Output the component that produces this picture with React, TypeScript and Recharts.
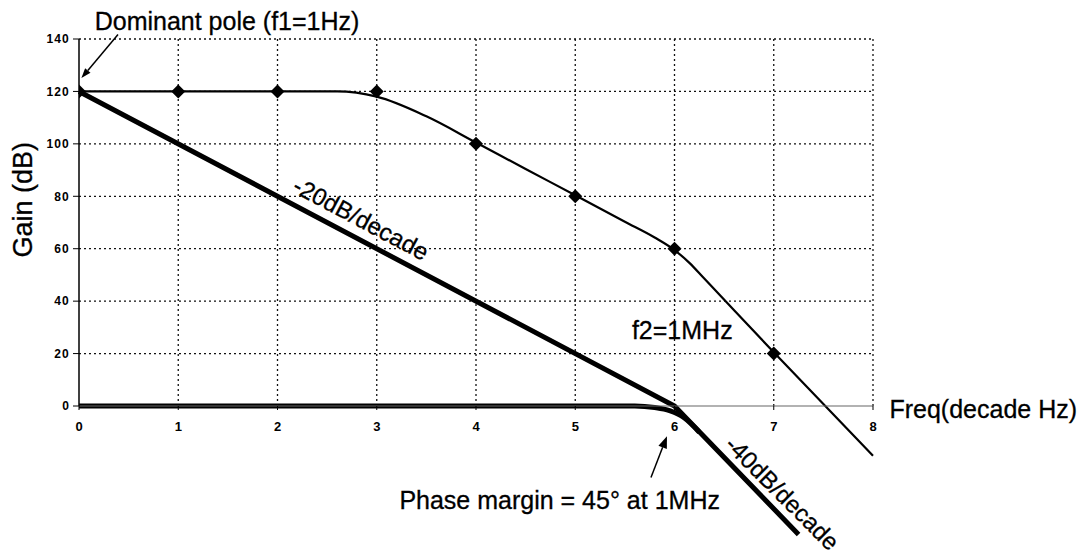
import React from 'react';
import {
  ComposedChart,
  Line,
  Scatter,
  XAxis,
  YAxis,
  CartesianGrid,
  ReferenceLine,
  ReferenceDot,
} from 'recharts';

// ---- data ----
const xTicks = [0, 1, 2, 3, 4, 5, 6, 7, 8];
const yTicks = [0, 20, 40, 60, 80, 100, 120, 140];

// measured open-loop points (diamonds)
const markerFreq = [0, 1, 2, 3, 4, 5, 6, 7];
const markerGain = [120, 120, 120, 120, 100, 80, 60, 20];

// smooth two-pole response curve
const curveFreq = [0, 2.6, 3.0, 3.5, 4.0, 4.5, 5.0, 5.5, 5.8, 6.0, 6.15, 6.3, 7.0, 8.0];
const curveGain = [120, 120, 118, 110.5, 100.5, 90.4, 80.4, 70.3, 64.3, 59.5, 54.6, 48.6, 20.5, -19];

// compensated response: -20dB/decade then -40dB/decade
const compFreq = [0, 6, 7.25];
const compGain = [120, 0, -49];

// 0 dB baseline bending into the -40dB/decade slope
const baseFreq = [0, 5.6, 5.8, 5.95, 6.1, 6.25];
const baseGain = [0, 0, -0.6, -1.8, -4.6, -10];

const zip = (xs: number[], ys: number[]) => xs.map((x, i) => ({ x, y: ys[i] }));
const markers = zip(markerFreq, markerGain);
const curve = zip(curveFreq, curveGain);
const comp = zip(compFreq, compGain);
const base = zip(baseFreq, baseGain);

const FONT = '"Liberation Sans", Arial, Helvetica, sans-serif';

const Diamond = (props: any) => {
  const { cx, cy } = props;
  const h = 7;
  return (
    <polygon
      points={`${cx},${cy - h} ${cx + h},${cy} ${cx},${cy + h} ${cx - h},${cy}`}
      fill="#000"
    />
  );
};

const makeText =
  (text: string, opts: { anchor?: string; angle?: number; size?: number; central?: boolean }) =>
  (props: any) => {
    const { cx, cy } = props;
    const { anchor = 'start', angle = 0, size = 25, central = false } = opts;
    return (
      <text
        x={cx}
        y={cy}
        textAnchor={anchor}
        dominantBaseline={central ? 'central' : 'alphabetic'}
        transform={angle ? `rotate(${angle} ${cx} ${cy})` : undefined}
        fontFamily={FONT}
        fontSize={size}
        fill="#000"
        stroke="#000"
        strokeWidth={0.3}
      >
        {text}
      </text>
    );
  };

const makeArrow = (len: number, half: number) => (props: any) => {
  const { x1, y1, x2, y2 } = props;
  const dx = x2 - x1;
  const dy = y2 - y1;
  const d = Math.sqrt(dx * dx + dy * dy) || 1;
  const ux = dx / d;
  const uy = dy / d;
  const bx = x2 - ux * len;
  const by = y2 - uy * len;
  const px = -uy * half;
  const py = ux * half;
  return (
    <g>
      <line x1={x1} y1={y1} x2={bx} y2={by} stroke="#000" strokeWidth={1.5} />
      <polygon points={`${x2},${y2} ${bx + px},${by + py} ${bx - px},${by - py}`} fill="#000" />
    </g>
  );
};

export default function App() {
  return (
    <div style={{ width: 1089, height: 560, background: '#fff' }}>
      <style>{`body{margin:0} .recharts-line, .recharts-line *{clip-path:none !important}`}</style>
      <ComposedChart
        width={1089}
        height={560}
        margin={{ top: 39, right: 216, bottom: 123, left: 19 }}
      >
        <CartesianGrid
          stroke="#111"
          strokeDasharray="2 3"
          strokeWidth={1.3}
          horizontalValues={[20, 40, 60, 80, 100, 120, 140]}
          verticalValues={[1, 2, 3, 4, 5, 6, 7, 8]}
        />
        <XAxis
          type="number"
          dataKey="x"
          domain={[0, 8]}
          ticks={xTicks}
          interval={0}
          allowDataOverflow
          height={31}
          tickSize={4}
          tickMargin={12}
          stroke="#666"
          axisLine={{ stroke: '#666', strokeWidth: 1.2 }}
          tickLine={{ stroke: '#000' }}
          tick={{ fontSize: 13, fontWeight: 'bold', fill: '#000', fontFamily: FONT }}
        />
        <YAxis
          type="number"
          dataKey="y"
          domain={[0, 140]}
          ticks={yTicks}
          interval={0}
          allowDataOverflow
          width={60}
          tickSize={6}
          tickMargin={3}
          axisLine={{ stroke: '#000', strokeWidth: 1.5 }}
          tickLine={{ stroke: '#000' }}
          tick={{ fontSize: 12, fontWeight: 'bold', fill: '#000', fontFamily: FONT, letterSpacing: 1.2 }}
        />
        <Line
          data={base}
          dataKey="y"
          type="monotone"
          stroke="#000"
          strokeWidth={5}
          dot={false}
          activeDot={false}
          isAnimationActive={false}
        />
        <Line
          data={comp}
          dataKey="y"
          type="linear"
          stroke="#000"
          strokeWidth={5}
          dot={false}
          activeDot={false}
          isAnimationActive={false}
        />
        <Line
          data={curve}
          dataKey="y"
          type="monotone"
          stroke="#000"
          strokeWidth={2.2}
          dot={false}
          activeDot={false}
          isAnimationActive={false}
        />
        <Scatter data={markers} dataKey="y" shape={Diamond} isAnimationActive={false} />

        <ReferenceLine
          segment={[{ x: 0.393, y: 141.7 }, { x: 0.024, y: 125.1 }]}
          ifOverflow="visible"
          shape={makeArrow(10, 3.5)}
        />
        <ReferenceLine
          segment={[{ x: 5.763, y: -27.3 }, { x: 5.924, y: -11.5 }]}
          ifOverflow="visible"
          shape={makeArrow(12, 4.5)}
        />

        <ReferenceDot x={0.158} y={143.5} r={0} ifOverflow="visible" shape={makeText('Dominant pole (f1=1Hz)', {})} />
        <ReferenceDot x={-0.474} y={78.7} r={0} ifOverflow="visible" shape={makeText('Gain (dB)', { anchor: 'middle', angle: -90, size: 27 })} />
        <ReferenceDot x={8.166} y={-4.5} r={0} ifOverflow="visible" shape={makeText('Freq(decade Hz)', {})} />
        <ReferenceDot x={5.571} y={25.6} r={0} ifOverflow="visible" shape={makeText('f2=1MHz', {})} />
        <ReferenceDot x={4.843} y={-39.3} r={0} ifOverflow="visible" shape={makeText('Phase margin = 45° at 1MHz', { anchor: 'middle' })} />
        <ReferenceDot x={2.841} y={71.5} r={0} ifOverflow="visible" shape={makeText('-20dB/decade', { anchor: 'middle', angle: 28, size: 24, central: true })} />
        <ReferenceDot x={7.087} y={-33.2} r={0} ifOverflow="visible" shape={makeText('-40dB/decade', { anchor: 'middle', angle: 45, size: 24, central: true })} />
      </ComposedChart>
    </div>
  );
}
